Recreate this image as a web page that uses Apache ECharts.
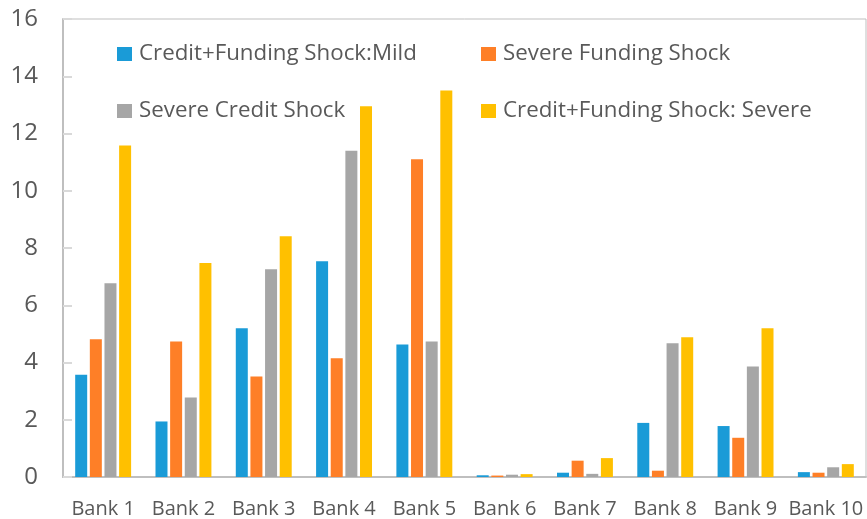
<!DOCTYPE html>
<html>
<head>
<meta charset="utf-8">
<script src="https://cdn.jsdelivr.net/npm/echarts@6/dist/echarts.min.js"></script>
<style>
  html, body { margin: 0; padding: 0; background: #fff; }
  #main { width: 867px; height: 519px; }
</style>
</head>
<body>
<div id="main"></div>
<script>
const categories = ["Bank 1", "Bank 2", "Bank 3", "Bank 4", "Bank 5", "Bank 6", "Bank 7", "Bank 8", "Bank 9", "Bank 10"];
const mild = [3.57, 1.94, 5.2, 7.54, 4.63, 0.06, 0.15, 1.89, 1.78, 0.17];
const fundingSevere = [4.81, 4.73, 3.51, 4.15, 11.1, 0.05, 0.57, 0.22, 1.37, 0.15];
const creditSevere = [6.77, 2.78, 7.26, 11.4, 4.73, 0.08, 0.11, 4.67, 3.86, 0.34];
const bothSevere = [11.58, 7.48, 8.41, 12.95, 13.5, 0.1, 0.66, 4.88, 5.2, 0.45];
const seriesNames = ["Credit+Funding Shock:Mild", "Severe Funding Shock", "Severe Credit Shock", "Credit+Funding Shock: Severe"];
const colors = ["#1a9bd7", "#fe7f27", "#a6a6a6", "#ffc000"];

const chart = echarts.init(document.getElementById("main"));

const legendPos = [[112, 38], [476, 38], [112, 95], [476, 95]];
const legends = seriesNames.map((name, i) => ({
  data: [name],
  left: legendPos[i][0],
  top: legendPos[i][1],
  itemWidth: 15,
  itemHeight: 14,
  itemGap: 0,
  icon: "rect",
  textStyle: { fontFamily: "Open Sans", fontSize: 22.3, color: "#595959", padding: [0, 0, 0, 2] }
}));

const allValues = [mild, fundingSevere, creditSevere, bothSevere];

chart.setOption({
  animation: false,
  color: colors,
  legend: legends,
  grid: {
    left: 63, right: 1, top: 19, bottom: 41,
    show: true, borderColor: "#bfbfbf", borderWidth: 1
  },
  xAxis: {
    type: "category",
    data: categories,
    axisLine: { lineStyle: { color: "#bfbfbf", width: 2 } },
    axisTick: { inside: true, length: 8, lineStyle: { color: "#bfbfbf", width: 2 } },
    axisLabel: { interval: 0, fontFamily: "Open Sans", fontSize: 20, color: "#595959", margin: 22 }
  },
  yAxis: {
    type: "value",
    min: 0, max: 16, interval: 2,
    splitLine: { show: false },
    axisLine: { show: true, lineStyle: { color: "#bfbfbf", width: 2 } },
    axisTick: { show: true, inside: true, length: 9, lineStyle: { color: "#d9d9d9", width: 2 } },
    axisLabel: { fontFamily: "Open Sans", fontSize: 24, color: "#595959", margin: 25 }
  },
  series: seriesNames.map((name, i) => ({
    name: name,
    type: "bar",
    data: allValues[i],
    barWidth: 12,
    barGap: "22%",
    itemStyle: { color: colors[i] }
  }))
});
</script>
</body>
</html>
